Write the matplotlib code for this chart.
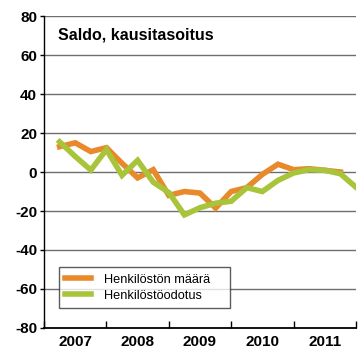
import numpy as np
import matplotlib.pyplot as plt

# quarterly balance figures, seasonally adjusted
maara = [13, 15, 10.5, 12.5, 4.5, -3, 1.2, -12, -10, -10.8, -18.5,
         -10, -8, -1.2, 4, 1.2, 1.7, 0.9, 0]
odotus = [15.5, 8, 1, 11.5, -1.7, 6, -5.2, -10.5, -22, -18.3, -16,
          -15, -8, -10, -4.3, -0.5, 1.2, 0.9, -0.9, -7.8]
years = [2007, 2008, 2009, 2010, 2011]

# points sit at the end of each quarter
x_maara = 2007 + (np.arange(len(maara)) + 1) / 4
x_odotus = 2007 + (np.arange(len(odotus)) + 1) / 4

plt.rcParams['font.family'] = ['Liberation Sans', 'DejaVu Sans']

fig = plt.figure(figsize=(3.59, 3.5), dpi=100)
ax = fig.add_axes([0.1226, 0.063, 0.869, 0.891])

for v in range(-60, 81, 20):
    ax.axhline(v, color='#6e6e6e', lw=1.0, zorder=1)

ax.plot(x_maara, maara, color='#E8892B', lw=4, label='Henkilöstön määrä',
        solid_joinstyle='miter', zorder=3)
ax.plot(x_odotus, odotus, color='#A8C43A', lw=4, label='Henkilöstöodotus',
        solid_joinstyle='miter', zorder=3)

ax.set_xlim(2007, 2012)
ax.set_ylim(-80, 80)

ax.set_yticks(range(-80, 81, 20))
ax.set_yticklabels([str(v) for v in range(-80, 81, 20)],
                   fontsize=11, fontweight='bold')
ax.tick_params(axis='y', direction='out', length=3, width=1, pad=2)

# year boundaries as ticks, labels in between
ax.set_xticks(np.arange(2007, 2013))
ax.set_xticklabels([])
ax.set_xticks(np.array(years) + 0.5, minor=True)
ax.set_xticklabels([str(y) for y in years], minor=True,
                   fontsize=11, fontweight='bold')
ax.tick_params(axis='x', which='major', direction='in', length=5, width=1)
ax.tick_params(axis='x', which='minor', length=0, pad=5)

for s in ['top', 'right']:
    ax.spines[s].set_visible(False)
ax.spines['left'].set_linewidth(1)
ax.spines['bottom'].set_linewidth(1.3)

ax.text(0.045, 0.94, 'Saldo, kausitasoitus', transform=ax.transAxes,
        fontsize=11.5, fontweight='bold', va='center', ha='left')

leg = ax.legend(loc='lower left', bbox_to_anchor=(0.048, 0.064, 0.548, 0),
                mode='expand', borderaxespad=0, fontsize=9.2, frameon=True,
                fancybox=False, handlelength=2.0, handletextpad=1.0,
                borderpad=0.5, labelspacing=0.3)
leg.get_frame().set_edgecolor('#333333')
leg.get_frame().set_linewidth(1)
leg.set_zorder(4)

fig.savefig('out.png', dpi=100)
